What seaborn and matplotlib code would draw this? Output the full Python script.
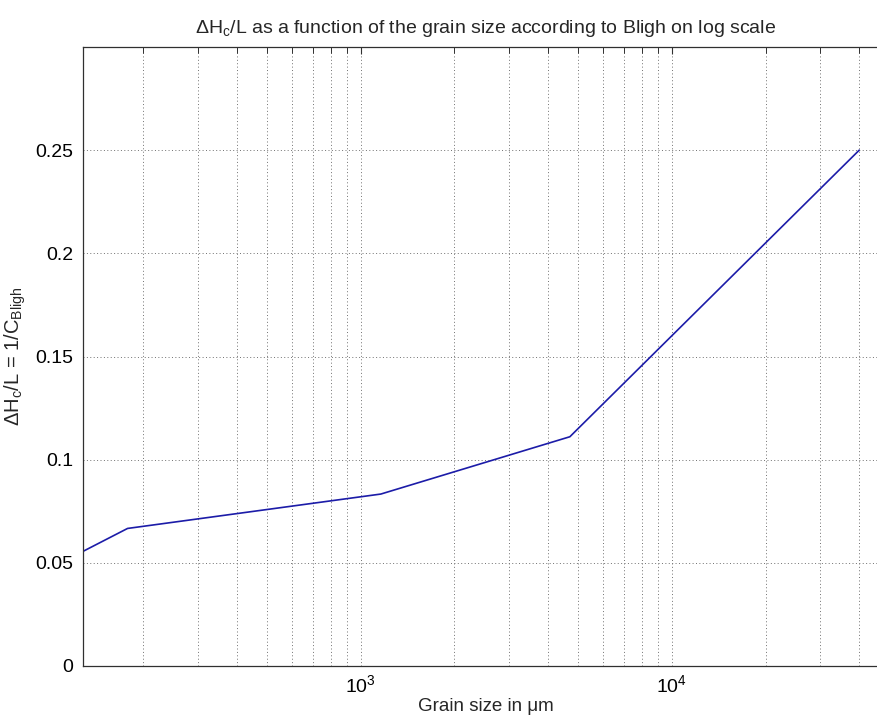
import numpy as np
import pandas as pd
import matplotlib
matplotlib.use("Agg")
import matplotlib.pyplot as plt
import matplotlib.ticker as mticker
import seaborn as sns

# Data
grain_size_um = [128, 178, 1160, 4700, 40000]
dh_over_l = [1 / 18, 1 / 15, 1 / 12, 1 / 9, 1 / 4]
y_ticks = [0, 0.05, 0.1, 0.15, 0.2, 0.25]
y_tick_labels = ["0", "0.05", "0.1", "0.15", "0.2", "0.25"]

title_text = r"ΔH$_\mathrm{c}$/L as a function of the grain size according to Bligh on log scale"
xlabel_text = "Grain size in μm"
ylabel_text = r"ΔH$_\mathrm{c}$/L = 1/C$_\mathrm{Bligh}$"

sns.set_style("white")
plt.rcParams["font.family"] = ["Liberation Sans", "DejaVu Sans"]
plt.rcParams["mathtext.fontset"] = "custom"
plt.rcParams["mathtext.rm"] = "Liberation Sans"
plt.rcParams["mathtext.it"] = "Liberation Sans"
plt.rcParams["mathtext.bf"] = "Liberation Sans:bold"

df = pd.DataFrame({"grain": grain_size_um, "ratio": dh_over_l})

fig = plt.figure(figsize=(8.78, 7.18), dpi=100)
ax = fig.add_axes([83 / 878, 52 / 718, (888 - 83) / 878, (666 - 47) / 718])

sns.lineplot(data=df, x="grain", y="ratio", ax=ax, color="#1c1ca8",
             linewidth=1.2, estimator=None, sort=False)

ax.set_xscale("log")
ax.set_xlim(128, 49500)
ax.set_ylim(0, 0.3)
ax.set_yticks(y_ticks)
ax.set_yticklabels(y_tick_labels)

ax.xaxis.set_major_locator(mticker.LogLocator(base=10))
ax.xaxis.set_minor_locator(mticker.LogLocator(base=10, subs=np.arange(2, 10)))
ax.xaxis.set_minor_formatter(mticker.NullFormatter())

ax.grid(True, which="both", axis="x", linestyle=(0, (1, 2.5)), color="#707070", linewidth=0.7)
ax.grid(True, which="major", axis="y", linestyle=(0, (1, 2.5)), color="#707070", linewidth=0.7)

for s in ax.spines.values():
    s.set_color("#303030")
    s.set_linewidth(0.9)

ax.tick_params(axis="both", which="both", direction="in", top=True, right=True,
               colors="#303030", labelcolor="black", labelsize=14)
ax.tick_params(which="major", length=5, width=0.8)
ax.tick_params(which="minor", length=4, width=0.7)
ax.tick_params(axis="x", pad=6)
ax.tick_params(axis="y", pad=7)

ax.set_title(title_text, fontsize=14, pad=10)
ax.set_xlabel(xlabel_text, fontsize=13.5, labelpad=1)
ax.set_ylabel(ylabel_text, fontsize=14.5, labelpad=5)

fig.savefig("out.png", dpi=100)
